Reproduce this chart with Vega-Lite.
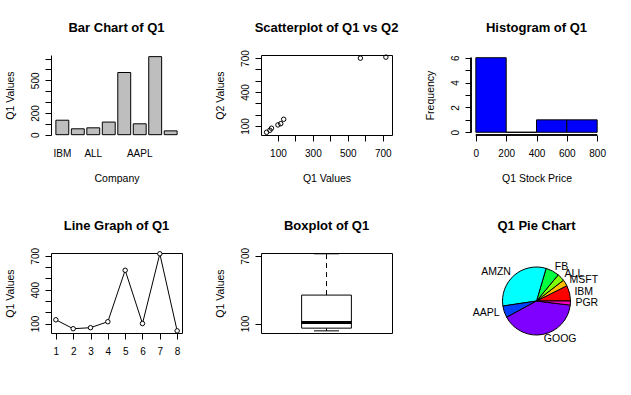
{
  "$schema": "https://vega.github.io/schema/vega-lite/v6.json",
  "background": "white",
  "padding": {"left": 4, "top": 21, "right": 5, "bottom": 5},
  "config": {
    "font": "Liberation Sans",
    "view": {"stroke": null},
    "axis": {
      "labelFont": "Liberation Sans", "labelFontSize": 10, "labelColor": "black",
      "titleFont": "Liberation Sans", "titleFontSize": 10.5, "titleFontWeight": "normal", "titleColor": "black",
      "tickColor": "black", "tickSize": 6, "tickWidth": 1, "domainColor": "black", "domainWidth": 1,
      "grid": false, "labelPadding": 5, "labelFlush": false, "labelOverlap": false, "labelBound": false
    },
    "axisY": {"labelAngle": -90, "labelAlign": "center", "labelBaseline": "bottom", "titlePadding": 15},
    "axisX": {"labelAngle": 0, "labelAlign": "center", "labelBaseline": "top", "titlePadding": 15, "labelPadding": 7},
    "title": {"font": "Liberation Sans", "fontSize": 13, "fontWeight": "bold", "color": "black", "anchor": "middle", "frame": "group", "offset": 20, "baseline": "alphabetic"}
  },
  "datasets": {
    "q": [
      {"company": "IBM", "idx": 1, "q1": 133, "q2": 159},
      {"company": "MSFT", "idx": 2, "q1": 54, "q2": 62},
      {"company": "ALL", "idx": 3, "q1": 63, "q2": 80},
      {"company": "FB", "idx": 4, "q1": 116, "q2": 120},
      {"company": "AMZN", "idx": 5, "q1": 572, "q2": 699},
      {"company": "AAPL", "idx": 6, "q1": 100, "q2": 109},
      {"company": "GOOG", "idx": 7, "q1": 718, "q2": 708},
      {"company": "PGR", "idx": 8, "q1": 35, "q2": 44}
    ],
    "hist": [
      {"lo": 0, "hi": 200, "n": 6},
      {"lo": 200, "hi": 400, "n": 0},
      {"lo": 400, "hi": 600, "n": 1},
      {"lo": 600, "hi": 800, "n": 1}
    ],
    "box": [
      {"g": "Q1", "lo": 35, "q1": 59, "med": 108, "q3": 352, "hi": 718}
    ]
  },
  "columns": 3,
  "spacing": {"row": 118, "column": 79},
  "bounds": "flush",
  "align": "each",
  "concat": [
    {
      "title": "Bar Chart of Q1",
      "width": 131, "height": 80,
      "data": {"name": "q"},
      "mark": {"type": "bar", "fill": "#BEBEBE", "stroke": "black", "strokeWidth": 1},
      "encoding": {
        "x": {"field": "company", "type": "nominal", "sort": null, "title": "Company",
          "scale": {"paddingInner": 0.1667, "paddingOuter": 0.315},
          "axis": {"ticks": false, "domain": false, "labelPadding": 13,
            "labelExpr": "indexof(['IBM','ALL','AAPL'], datum.value) >= 0 ? datum.value : ''"}},
        "y": {"field": "q1", "type": "quantitative", "title": "Q1 Values",
          "scale": {"domain": [-3, 733], "nice": false, "zero": false},
          "axis": {"values": [0, 100, 200, 300, 400, 500, 600, 700],
            "labelExpr": "(datum.value == 0 || datum.value == 200 || datum.value == 500) ? datum.label : ''"}},
        "y2": {"datum": 0}
      }
    },
    {
      "title": {"text": "Scatterplot of Q1 vs Q2", "offset": 14.6},
      "width": 131, "height": 80,
      "view": {"stroke": "black", "strokeWidth": 1},
      "data": {"name": "q"},
      "mark": {"type": "point", "shape": "circle", "filled": false, "color": "black", "size": 20, "strokeWidth": 1, "opacity": 1},
      "encoding": {
        "x": {"field": "q1", "type": "quantitative", "title": "Q1 Values",
          "scale": {"domain": [3, 753], "nice": false, "zero": false},
          "axis": {"values": [100, 200, 300, 400, 500, 600, 700], "domain": false,
            "labelExpr": "datum.value % 200 == 100 ? datum.label : ''"}},
        "y": {"field": "q2", "type": "quantitative", "title": "Q2 Values",
          "scale": {"domain": [20, 727], "nice": false, "zero": false},
          "axis": {"values": [100, 200, 300, 400, 500, 600, 700], "domain": false,
            "labelExpr": "(datum.value == 100 || datum.value == 400 || datum.value == 700) ? datum.label : ''"}}
      }
    },
    {
      "title": "Histogram of Q1",
      "width": 131, "height": 80,
      "data": {"name": "hist"},
      "layer": [
        {
          "mark": {"type": "bar", "fill": "#0000FF", "stroke": "black", "strokeWidth": 1},
          "encoding": {
            "x": {"field": "lo", "type": "quantitative", "title": "Q1 Stock Price",
              "scale": {"domain": [-32, 832], "nice": false, "zero": false},
              "axis": {"values": [0, 200, 400, 600, 800], "domain": false}},
            "x2": {"field": "hi"},
            "y": {"field": "n", "type": "quantitative", "title": "Frequency",
              "scale": {"domain": [-0.22, 6.22], "nice": false, "zero": false},
              "axis": {"values": [0, 1, 2, 3, 4, 5, 6], "domain": false,
                "labelExpr": "datum.value % 2 == 0 ? datum.label : ''"}},
            "y2": {"datum": 0}
          }
        },
        {
          "mark": {"type": "rule", "color": "black", "strokeWidth": 1},
          "encoding": {
            "x": {"datum": -32, "type": "quantitative", "title": "Q1 Stock Price",
              "scale": {"domain": [-32, 832], "nice": false, "zero": false},
              "axis": {"values": [0, 200, 400, 600, 800], "domain": false}},
            "y": {"datum": 0, "type": "quantitative", "title": "Frequency",
              "scale": {"domain": [-0.22, 6.22], "nice": false, "zero": false},
              "axis": {"values": [0, 1, 2, 3, 4, 5, 6], "domain": false,
                "labelExpr": "datum.value % 2 == 0 ? datum.label : ''"}},
            "y2": {"datum": 6}
          }
        },
        {
          "mark": {"type": "rule", "color": "black", "strokeWidth": 1},
          "encoding": {
            "y": {"datum": -0.22, "type": "quantitative", "title": "Frequency",
              "scale": {"domain": [-0.22, 6.22], "nice": false, "zero": false},
              "axis": {"values": [0, 1, 2, 3, 4, 5, 6], "domain": false,
                "labelExpr": "datum.value % 2 == 0 ? datum.label : ''"}},
            "x": {"datum": 0, "type": "quantitative", "title": "Q1 Stock Price",
              "scale": {"domain": [-32, 832], "nice": false, "zero": false},
              "axis": {"values": [0, 200, 400, 600, 800], "domain": false}},
            "x2": {"datum": 800}
          }
        }
      ]
    },
    {
      "title": {"text": "Line Graph of Q1", "offset": 14.5},
      "width": 131, "height": 80,
      "view": {"stroke": "black", "strokeWidth": 1},
      "data": {"name": "q"},
      "encoding": {
        "x": {"field": "idx", "type": "quantitative", "title": null,
          "scale": {"domain": [0.72, 8.28], "nice": false, "zero": false},
          "axis": {"values": [1, 2, 3, 4, 5, 6, 7, 8], "domain": false}},
        "y": {"field": "q1", "type": "quantitative", "title": "Q1 Values",
          "scale": {"domain": [16, 725], "nice": false, "zero": false},
          "axis": {"values": [100, 200, 300, 400, 500, 600, 700], "domain": false,
            "labelExpr": "(datum.value == 100 || datum.value == 400 || datum.value == 700) ? datum.label : ''"}}
      },
      "layer": [
        {"mark": {"type": "line", "color": "black", "strokeWidth": 1}},
        {"mark": {"type": "point", "shape": "circle", "filled": true, "fill": "white", "stroke": "black", "size": 20, "strokeWidth": 1, "opacity": 1}}
      ]
    },
    {
      "title": {"text": "Boxplot of Q1", "offset": 14.5},
      "width": 131, "height": 80,
      "view": {"stroke": "black", "strokeWidth": 1},
      "data": {"name": "box"},
      "encoding": {
        "x": {"field": "g", "type": "nominal", "scale": {"paddingInner": 0, "paddingOuter": 0}, "axis": null}
      },
      "layer": [
        {
          "mark": {"type": "rule", "color": "black", "strokeWidth": 1, "strokeDash": [5, 4]},
          "encoding": {
            "y": {"field": "q3", "type": "quantitative", "title": "Q1 Values",
              "scale": {"domain": [16, 725], "nice": false, "zero": false},
              "axis": {"values": [100, 200, 300, 400, 500, 600, 700], "domain": false,
                "labelExpr": "(datum.value == 100 || datum.value == 400 || datum.value == 700) ? datum.label : ''"}},
            "y2": {"field": "hi"}
          }
        },
        {
          "mark": {"type": "rule", "color": "black", "strokeWidth": 1, "strokeDash": [5, 4]},
          "encoding": {
            "y": {"field": "lo", "type": "quantitative", "title": "Q1 Values"},
            "y2": {"field": "q1"}
          }
        },
        {
          "mark": {"type": "bar", "width": {"band": 0.38}, "fill": "white", "stroke": "black", "strokeWidth": 1},
          "encoding": {
            "y": {"field": "q1", "type": "quantitative", "title": "Q1 Values"},
            "y2": {"field": "q3"}
          }
        },
        {
          "mark": {"type": "tick", "size": 50, "thickness": 3, "color": "black", "opacity": 1},
          "encoding": {"y": {"field": "med", "type": "quantitative", "title": "Q1 Values"}}
        },
        {
          "mark": {"type": "tick", "size": 25, "thickness": 1, "color": "black", "opacity": 1},
          "encoding": {"y": {"field": "hi", "type": "quantitative", "title": "Q1 Values"}}
        },
        {
          "mark": {"type": "tick", "size": 25, "thickness": 1, "color": "black", "opacity": 1},
          "encoding": {"y": {"field": "lo", "type": "quantitative", "title": "Q1 Values"}}
        }
      ]
    },
    {
      "title": "Q1 Pie Chart",
      "width": 131, "height": 96,
      "data": {"name": "q"},
      "encoding": {
        "theta": {"field": "q1", "type": "quantitative", "stack": true, "scale": {"range": [1.5708, -4.7124]}},
        "order": {"field": "idx", "type": "quantitative"}
      },
      "layer": [
        {
          "mark": {"type": "arc", "outerRadius": 34, "stroke": "black", "strokeWidth": 1},
          "encoding": {
            "color": {"field": "company", "type": "nominal", "legend": null,
              "scale": {"domain": ["IBM", "MSFT", "ALL", "FB", "AMZN", "AAPL", "GOOG", "PGR"],
                "range": ["#FF0000", "#FFBF00", "#80FF00", "#00FF40", "#00FFFF", "#0040FF", "#8000FF", "#FF00BF"]}}
          }
        },
        {
          "mark": {"type": "text", "radius": 39, "fontSize": 10.5, "font": "Liberation Sans", "color": "black", "baseline": "middle",
            "align": {"expr": "indexof(['AMZN','AAPL'], datum.company) >= 0 ? 'right' : 'left'"}},
          "encoding": {
            "text": {"field": "company"},
            "detail": {"field": "company"}
          }
        }
      ]
    }
  ]
}
